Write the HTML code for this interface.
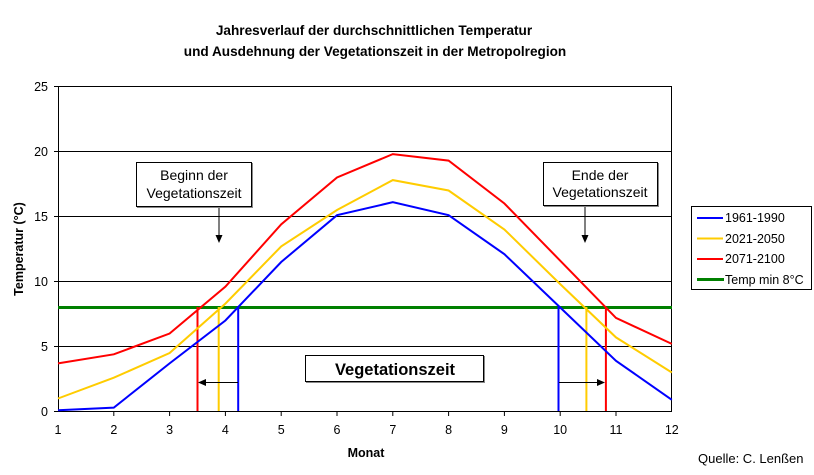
<!DOCTYPE html>
<html><head><meta charset="utf-8"><style>
html,body{margin:0;padding:0;background:#fff;}
svg{display:block;font-family:"Liberation Sans",Arial,sans-serif;}
</style></head><body>
<svg width="814" height="475" viewBox="0 0 814 475" xmlns="http://www.w3.org/2000/svg">
<rect width="814" height="475" fill="#fff"/>
<text x="374" y="35" font-size="13.6" font-weight="bold" text-anchor="middle">Jahresverlauf der durchschnittlichen Temperatur</text>
<text x="375" y="56" font-size="13.6" font-weight="bold" text-anchor="middle">und Ausdehnung der Vegetationszeit  in der Metropolregion</text>
<g stroke="#000" stroke-width="1">
<line x1="58" y1="86.5" x2="672" y2="86.5"/>
<line x1="58" y1="151.5" x2="672" y2="151.5"/>
<line x1="58" y1="216.5" x2="672" y2="216.5"/>
<line x1="58" y1="281.5" x2="672" y2="281.5"/>
<line x1="58" y1="346.5" x2="672" y2="346.5"/>
<line x1="58" y1="411.5" x2="672" y2="411.5"/>
<line x1="58.5" y1="86" x2="58.5" y2="412"/>
<line x1="671.5" y1="86" x2="671.5" y2="412"/>
<line x1="54" y1="86.5" x2="58" y2="86.5"/><line x1="54" y1="151.5" x2="58" y2="151.5"/><line x1="54" y1="216.5" x2="58" y2="216.5"/><line x1="54" y1="281.5" x2="58" y2="281.5"/><line x1="54" y1="346.5" x2="58" y2="346.5"/><line x1="54" y1="411.5" x2="58" y2="411.5"/>
</g>
<g stroke="#000" stroke-width="1">
<line x1="113.8" y1="411" x2="113.8" y2="416"/><line x1="169.6" y1="411" x2="169.6" y2="416"/><line x1="225.4" y1="411" x2="225.4" y2="416"/><line x1="281.2" y1="411" x2="281.2" y2="416"/><line x1="337" y1="411" x2="337" y2="416"/><line x1="392.8" y1="411" x2="392.8" y2="416"/><line x1="448.6" y1="411" x2="448.6" y2="416"/><line x1="504.4" y1="411" x2="504.4" y2="416"/><line x1="560.2" y1="411" x2="560.2" y2="416"/><line x1="616" y1="411" x2="616" y2="416"/>
</g>
<g font-size="12.5" text-anchor="end">
<text x="48" y="91">25</text><text x="48" y="156">20</text><text x="48" y="221">15</text><text x="48" y="286">10</text><text x="48" y="351">5</text><text x="48" y="416">0</text>
</g>
<g font-size="12.5" text-anchor="middle">
<text x="58" y="434">1</text><text x="113.8" y="434">2</text><text x="169.6" y="434">3</text><text x="225.4" y="434">4</text><text x="281.2" y="434">5</text><text x="337" y="434">6</text><text x="392.8" y="434">7</text><text x="448.6" y="434">8</text><text x="504.4" y="434">9</text><text x="560.2" y="434">10</text><text x="616" y="434">11</text><text x="671.8" y="434">12</text>
</g>
<text x="366" y="457" font-size="12.5" font-weight="bold" text-anchor="middle">Monat</text>
<text transform="translate(23,249) rotate(-90)" font-size="12.5" font-weight="bold" text-anchor="middle">Temperatur (°C)</text>
<line x1="58" y1="307.5" x2="672" y2="307.5" stroke="#008000" stroke-width="3"/>
<g stroke-width="2" fill="none">
<line x1="197.5" y1="307" x2="197.5" y2="411" stroke="#ff0000"/>
<line x1="218.7" y1="307" x2="218.7" y2="411" stroke="#ffcc00"/>
<line x1="238.2" y1="307" x2="238.2" y2="411" stroke="#0000ff"/>
<line x1="558.5" y1="307" x2="558.5" y2="411" stroke="#0000ff"/>
<line x1="586.4" y1="307" x2="586.4" y2="411" stroke="#ffcc00"/>
<line x1="605.9" y1="307" x2="605.9" y2="411" stroke="#ff0000"/>
<polyline stroke="#0000ff" points="58,410.2 113.8,407.6 169.6,363.4 225.4,320.5 281.2,262 337,215.2 392.8,202.2 448.6,215.2 504.4,254.2 560.2,307.5 616,360.8 671.8,399.8"/>
<polyline stroke="#ffcc00" points="58,398.5 113.8,377.7 169.6,353 225.4,303.6 281.2,246.4 337,210 392.8,180.1 448.6,190.5 504.4,229.5 560.2,284.1 616,337.4 671.8,372.5"/>
<polyline stroke="#ff0000" points="58,363.4 113.8,354.3 169.6,333.5 225.4,286.7 281.2,224.3 337,177.5 392.8,154.1 448.6,160.6 504.4,203.5 560.2,260.7 616,317.9 671.8,343.9"/>
</g>
<g stroke="#000" stroke-width="1">
<line x1="238" y1="382.5" x2="204" y2="382.5"/>
<line x1="559" y1="382.5" x2="597" y2="382.5"/>
<line x1="219" y1="207" x2="219" y2="238"/>
<line x1="585" y1="207" x2="585" y2="238"/>
</g>
<polygon points="198,382.5 206,379 206,386" fill="#000"/>
<polygon points="605,382.5 597,379 597,386" fill="#000"/>
<polygon points="219,243 215.5,235 222.5,235" fill="#000"/>
<polygon points="585,243 581.5,235 588.5,235" fill="#000"/>
<rect x="136.5" y="162.5" width="115" height="44" fill="#fff" stroke="#000"/>
<line x1="137" y1="207.5" x2="252" y2="207.5" stroke="#888"/><line x1="252.5" y1="163" x2="252.5" y2="208" stroke="#888"/>
<text x="194" y="180" font-size="14" text-anchor="middle">Beginn der</text>
<text x="194" y="198" font-size="14" text-anchor="middle">Vegetationszeit</text>
<rect x="543.5" y="162.5" width="114" height="43" fill="#fff" stroke="#000"/>
<line x1="544" y1="206.5" x2="658" y2="206.5" stroke="#888"/><line x1="658.5" y1="163" x2="658.5" y2="207" stroke="#888"/>
<text x="600" y="180" font-size="14" text-anchor="middle">Ende der</text>
<text x="600" y="197" font-size="14" text-anchor="middle">Vegetationszeit</text>
<rect x="305.5" y="355.5" width="178" height="26" fill="#fff" stroke="#000"/>
<line x1="306" y1="382.5" x2="484" y2="382.5" stroke="#888"/><line x1="484.5" y1="356" x2="484.5" y2="383" stroke="#888"/>
<text x="395" y="375" font-size="16.5" font-weight="bold" text-anchor="middle">Vegetationszeit</text>
<rect x="691.5" y="206.5" width="120" height="83" fill="#fff" stroke="#000"/>
<g stroke-width="2">
<line x1="697" y1="218" x2="723" y2="218" stroke="#0000ff"/>
<line x1="697" y1="238.5" x2="723" y2="238.5" stroke="#ffcc00"/>
<line x1="697" y1="259" x2="723" y2="259" stroke="#ff0000"/>
<line x1="697" y1="279.5" x2="724" y2="279.5" stroke="#008000" stroke-width="3"/>
</g>
<g font-size="12.5">
<text x="725" y="222">1961-1990</text>
<text x="725" y="243">2021-2050</text>
<text x="725" y="263">2071-2100</text>
<text x="725" y="284">Temp min 8°C</text>
</g>
<text x="698" y="463" font-size="13">Quelle: C. Lenßen</text>
</svg>
</body></html>
